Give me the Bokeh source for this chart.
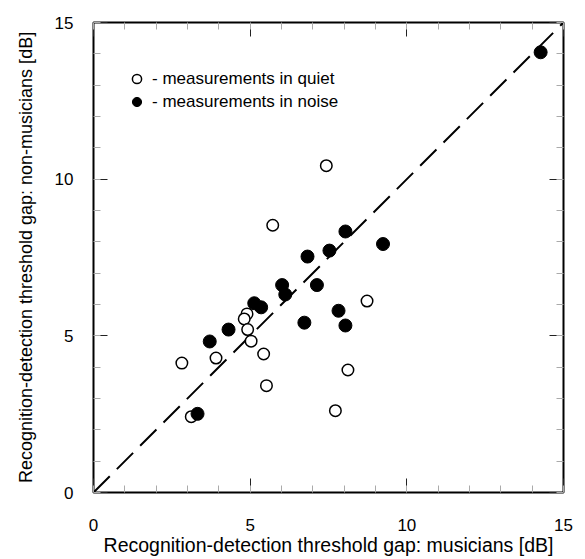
from bokeh.plotting import figure
from bokeh.models import LinearAxis, Legend, LegendItem, Range1d, FixedTicker
from bokeh.embed import file_html
from bokeh.resources import INLINE

quiet_x = [7.43, 5.72, 8.73, 4.90, 4.81, 4.92, 5.03, 5.43, 8.12, 5.52, 7.72, 2.82, 3.91, 3.12]
quiet_y = [10.43, 8.53, 6.11, 5.70, 5.54, 5.20, 4.83, 4.42, 3.91, 3.41, 2.61, 4.13, 4.29, 2.42]

noise_x = [8.04, 9.24, 7.53, 6.83, 6.02, 6.12, 7.13, 5.13, 5.35, 7.82, 6.73, 8.04, 4.31, 3.71, 3.32, 14.27]
noise_y = [8.33, 7.93, 7.72, 7.53, 6.62, 6.32, 6.62, 6.04, 5.91, 5.80, 5.42, 5.33, 5.20, 4.82, 2.51, 14.05]

diag = [0, 15]
major_ticks = [0, 5, 10, 15]
minor_ticks = list(range(0, 16))

FONT = "Liberation Sans"

p = figure(width=585, height=559, output_backend="svg", toolbar_location=None,
           x_range=Range1d(0, 15), y_range=Range1d(0, 15),
           min_border_left=93, min_border_right=22, min_border_top=22, min_border_bottom=67,
           x_axis_label="Recognition-detection threshold gap: musicians [dB]",
           y_axis_label="Recognition-detection threshold gap: non-musicians [dB]")
p.background_fill_color = "white"
p.border_fill_color = "white"
p.grid.visible = False
p.outline_line_color = "black"
p.outline_line_width = 2

def style_axis(ax, labels=True):
    ax.ticker = FixedTicker(ticks=major_ticks, minor_ticks=minor_ticks)
    ax.major_tick_in = 14
    ax.major_tick_out = 0
    ax.minor_tick_in = 7
    ax.minor_tick_out = 0
    ax.major_tick_line_color = "#222222"
    ax.major_tick_line_width = 1
    ax.minor_tick_line_color = "#aaaaaa"
    ax.minor_tick_line_width = 1
    ax.axis_line_color = None
    if labels:
        ax.major_label_text_font = FONT
        ax.major_label_text_font_size = "17px"
        ax.major_label_text_color = "black"
        ax.axis_label_text_font = FONT
        ax.axis_label_text_font_size = "18px"
        ax.axis_label_text_font_style = "normal"
        ax.axis_label_text_color = "black"
    else:
        ax.major_label_text_color = None
        ax.major_label_text_font_size = "8px"
        ax.major_label_standoff = 0
        ax.axis_label = None

style_axis(p.xaxis[0])
style_axis(p.yaxis[0])
p.xaxis[0].major_label_standoff = 26
p.xaxis[0].axis_label_standoff = 0
p.xaxis[0].axis_label_text_font_size = "19.5px"
p.yaxis[0].major_label_standoff = 20
p.yaxis[0].axis_label_standoff = 16

top = LinearAxis()
right = LinearAxis()
style_axis(top, labels=False)
style_axis(right, labels=False)
p.add_layout(top, "above")
p.add_layout(right, "right")

p.line(diag, diag, line_color="black", line_width=2, line_dash="23 10")

r_quiet = p.scatter(quiet_x, quiet_y, marker="circle", size=11.5, fill_color="white",
                    line_color="black", line_width=1.5)
r_noise = p.scatter(noise_x, noise_y, marker="circle", size=13, fill_color="black",
                    line_color="black", line_width=1)

legend = Legend(items=[LegendItem(label="- measurements in quiet", renderers=[r_quiet]),
                       LegendItem(label="- measurements in noise", renderers=[r_noise])],
                location=(32, 379), orientation="vertical",
                glyph_width=23, glyph_height=23, spacing=0, padding=0, margin=0,
                label_standoff=4, label_text_font=FONT, label_text_font_size="17px",
                label_text_color="black", border_line_color=None,
                background_fill_alpha=0)
p.add_layout(legend, "center")

open("out.html", "w").write(file_html(p, INLINE))
